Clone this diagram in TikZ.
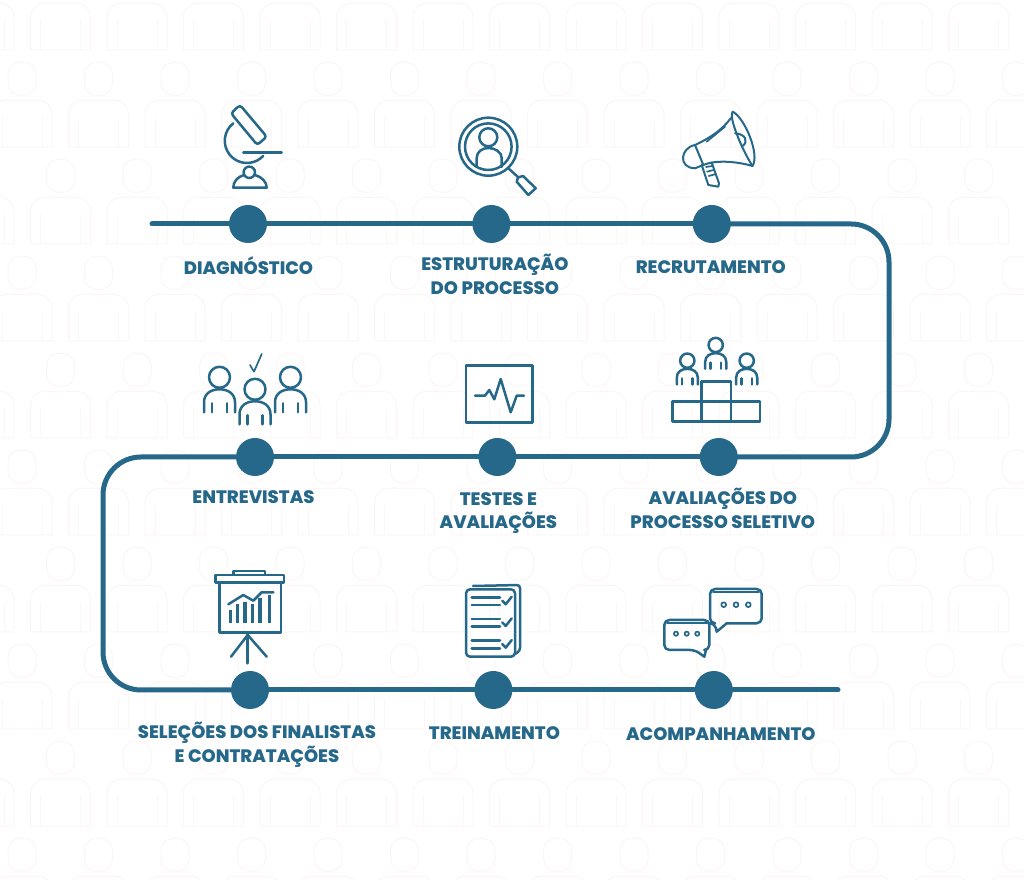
\documentclass[tikz,border=0pt]{standalone}
\usepackage{fontspec}
\setmainfont{Poppins}[BoldFont={Poppins ExtraBold}]
\usetikzlibrary{positioning}
\definecolor{tealblue}{HTML}{26688A}
\definecolor{ghostpink}{HTML}{FDF6F6}

\begin{document}
\begin{tikzpicture}[
  x=1pt, y=1pt,
  px/.style={shift={(0,880)}, yscale=-1, transform shape},
  dot/.style={circle, fill=tealblue, minimum size=38pt, inner sep=0pt},
  trail/.style={draw=tealblue, line width=5pt, line cap=round, rounded corners=38pt},
  stage/.style={align=center, text=tealblue, inner sep=0pt,
                font=\bfseries\fontsize{18}{23.5}\selectfont},
  icon/.style={draw=tealblue, line width=2.5pt, line join=round, line cap=round},
  midicon/.style={icon, line width=2pt},
  thinicon/.style={icon, line width=1.7pt},
  person/.pic={
    \draw[icon] (0,0) circle (10.5);
    \draw[icon] (-15.5,35) -- (-15.5,25) .. controls (-15.5,16) and (-8,12) .. (0,12)
                .. controls (8,12) and (15.5,16) .. (15.5,25) -- (15.5,35);
    \draw[icon] (-7.5,26) -- (-7.5,35) (7.5,26) -- (7.5,35);
  },
  ghost/.pic={
    \draw[draw=ghostpink, line width=1pt, rounded corners=12pt] (-14,-38) rectangle (14,-5);
    \draw[draw=ghostpink, line width=1pt] (-30,46.7) [rounded corners=14pt] -- (-30,0) -- (30,0)
                [sharp corners] -- (30,46.7) -- cycle;
    \draw[draw=ghostpink, line width=1pt] (-20,17) -- (-20,46.7) (20,17) -- (20,46.7);
  }]
\useasboundingbox (0,0) rectangle (1024,880);
\fill[white] (0,0) rectangle (1024,880);

% background pattern
\begin{scope}[px]
\foreach \row in {0,2,4,6,8}
  \foreach \col in {-1,...,13}
    \pic at ({60.5+76.5*\col},{3.3+97*\row}) {ghost};
\foreach \row in {1,3,5,7,9}
  \foreach \col in {-1,...,13}
    \pic at ({22+76.5*\col},{3.3+97*\row}) {ghost};
\end{scope}

% stages
\node[dot] (diag) at (248,656) {};
\node[dot, right=205pt of diag] (estr) {};
\node[dot, right=182pt of estr] (recr) {};
\node[dot] (entr) at (255,423) {};
\node[dot, right=204pt of entr] (test) {};
\node[dot, right=183pt of test] (aval) {};
\node[dot] (sele) at (250,190) {};
\node[dot, right=205pt of sele] (trei) {};
\node[dot, right=182pt of trei] (acom) {};

\node[stage, below=13pt of diag, xshift=0.5pt] (diaglabel) {DIAGNÓSTICO};
\node[stage, below=11pt of estr, xshift=3.5pt] (estrlabel) {ESTRUTURAÇÃO\\DO PROCESSO};
\node[stage, below=17pt of recr, xshift=-1pt] (recrlabel) {RECRUTAMENTO};
\node[stage, below=14pt of entr, xshift=-1.5pt] (entrlabel) {ENTREVISTAS};
\node[stage, below=16pt of test, xshift=1pt] (testlabel) {TESTES E\\AVALIAÇÕES};
\node[stage, below=12pt of aval, xshift=4pt] (avallabel) {AVALIAÇÕES DO\\PROCESSO SELETIVO};
\node[stage, below=13pt of sele, xshift=7pt] (selelabel) {SELEÇÕES DOS FINALISTAS\\E CONTRATAÇÕES};
\node[stage, below=17pt of trei, xshift=1pt] (treilabel) {TREINAMENTO};
\node[stage, below=18pt of acom, xshift=7pt] (acomlabel) {ACOMPANHAMENTO};

% trail
\coordinate (trailstart) at (152,656);
\coordinate (trailend) at (838,190);
\coordinate (cornerne) at (889,656);
\coordinate (cornerse) at (889,423);
\coordinate (cornernw) at (103,423);
\coordinate (cornersw) at (103,190);
\draw[trail] (trailstart) -- (diag);
\draw[trail] (diag) -- (estr);
\draw[trail] (estr) -- (recr);
\draw[trail] (recr) -- (cornerne) -- (cornerse) -- (aval);
\draw[trail] (aval) -- (test);
\draw[trail] (test) -- (entr);
\draw[trail] (entr) -- (cornernw) -- (cornersw) -- (sele);
\draw[trail] (sele) -- (trei);
\draw[trail] (trei) -- (acom);
\draw[trail] (acom) -- (trailend);

% icons
\begin{scope}[px]
% microscope
\draw[icon, rounded corners=3pt] (231,113.3) -- (240,105) -- (266.7,136.7) -- (257.3,145) -- cycle;
\draw[icon] (233.3,123.3) arc (232:43:22.2);
\draw[icon] (243.3,152.7) -- (281.7,152.7);
\draw[icon] (249.3,172.3) circle (5.7);
\draw[icon] (244,175) .. controls (237,177) and (233.3,182) .. (233.3,187.7) -- (266.7,187.7)
            .. controls (266.7,182) and (262,177) .. (255,175);
% magnifier
\draw[icon] (488.3,146.7) circle (29);
\draw[icon] (488.3,146.7) circle (23.3);
\draw[icon] (488.3,137.3) circle (9);
\draw[icon] (476.7,167) -- (476.7,158) .. controls (476.7,152) and (482,148) .. (488.3,148)
            .. controls (495,148) and (501.7,152) .. (501.7,158) -- (501.7,167);
\draw[icon] (508.3,168.3) -- (518.3,177.3);
\draw[icon] (518,177.5) -- (523,176) -- (535.7,188.3) -- (528.3,195) -- (516.7,181.7) -- cycle;
% megaphone
\draw[midicon] (732.7,111.7) .. controls (745,118) and (760,155) .. (752.5,166);
\draw[midicon] (732.7,111.7) .. controls (728,116) and (742,150) .. (752.5,166);
\draw[midicon] (731,118) .. controls (722,130) and (710,138) .. (695,145);
\draw[midicon] (695,145) .. controls (680,148) and (678,168) .. (695,168.3) -- (703.3,165)
            .. controls (715,160) and (735,161) .. (752.5,166);
\draw[midicon] (695,145) -- (703.3,165);
\draw[midicon] (701.7,165) -- (708.3,185) -- (718.3,186.7) -- (719,183.3) -- (711.7,162.7);
\draw[thinicon] (706,167) -- (712,166) (707,171.7) -- (713.7,170) (708.7,176) -- (715,174.3);
\draw[thinicon] (706.7,141.7) -- (725,126.7);
\draw[midicon] (735,133.3) .. controls (746,134) and (749,142) .. (741.7,146.7);
% interviews
\pic at (219.5,377.3) {person};
\pic at (255,389.3) {person};
\pic at (290.5,377.3) {person};
\draw[thinicon] (250,365) -- (254,371.7) -- (261.7,354);
% test monitor
\draw[icon] (466,365.7) rectangle (532.7,422.3);
\draw[icon] (475,395.7) -- (485,395.7) -- (489.3,390) -- (494.3,399.3) -- (500.7,379)
            -- (510.7,412.3) -- (516.7,395.7) -- (524,395.7);
% podium
\pic[scale=.68] at (715.7,345) {person};
\pic[scale=.68] at (687.3,360.7) {person};
\pic[scale=.68] at (746.7,360.7) {person};
\draw[icon] (672.3,401.7) rectangle (701.7,421.7);
\draw[icon] (701.7,401.7) rectangle (731,421.7);
\draw[icon] (731,401.7) rectangle (760,421.7);
\draw[icon] (701.7,381.7) rectangle (731,401.7);
% presentation board
\draw[icon] (215.7,575) rectangle (284,582.7);
\draw[icon] (233.3,575) -- (233.3,571) -- (265,571) -- (265,575);
\draw[icon] (219.3,582.7) rectangle (281,632.7);
\draw[icon] (247.7,632.7) -- (247.7,663.3);
\draw[icon] (231,656.7) -- (247.7,635) -- (266.7,656.7);
\foreach \barx/\bartop in {230.7/610, 237.7/604, 245/602, 252.3/604, 260/598, 269.3/595}
  \draw[icon, line width=3.2pt, line cap=butt] (\barx,623.3) -- (\barx,\bartop);
\draw[icon] (228.3,604.3) -- (243.3,595) -- (253.3,600.7) -- (261.7,592.3) -- (273.3,592.3);
% checklist
\draw[icon, rounded corners=3pt] (473,586) -- (520,585) -- (520,651) -- (515,654);
\draw[icon, rounded corners=4pt] (466,589.3) rectangle (515,656.7);
\foreach \listy in {0,21.7,43.4} {
  \draw[icon] (471.7,597.3+\listy) -- (500,597.3+\listy);
  \draw[icon] (471.7,605+\listy) -- (500,605+\listy);
  \draw[icon] (502.3,600.7+\listy) -- (505.7,604.3+\listy) -- (511.7,596.7+\listy);
}
% speech bubbles
\draw[icon, rounded corners=5pt] (715,623.3) [sharp corners] -- (716.7,631.7) -- (726.7,623.3)
      [rounded corners=5pt] -- (761.7,623.3) -- (761.7,589) -- (710,589) -- (710,623.3) -- cycle;
\draw[thinicon] (713,592) -- (759,592);
\draw[icon, rounded corners=5pt] (695,650) [sharp corners] -- (704.3,656.7) -- (706,650)
      [rounded corners=5pt] -- (709.3,650) -- (709.3,620) -- (664.3,620) -- (664.3,650) -- cycle;
\draw[thinicon] (667,623) -- (707,623);
\foreach \dotx in {723.7,736,748.3}
  \draw[thinicon] (\dotx,604.7) circle (2.4);
\foreach \dotx in {676,686.7,697.3}
  \draw[thinicon] (\dotx,633.7) circle (2.1);
\end{scope}
\end{tikzpicture}
\end{document}
